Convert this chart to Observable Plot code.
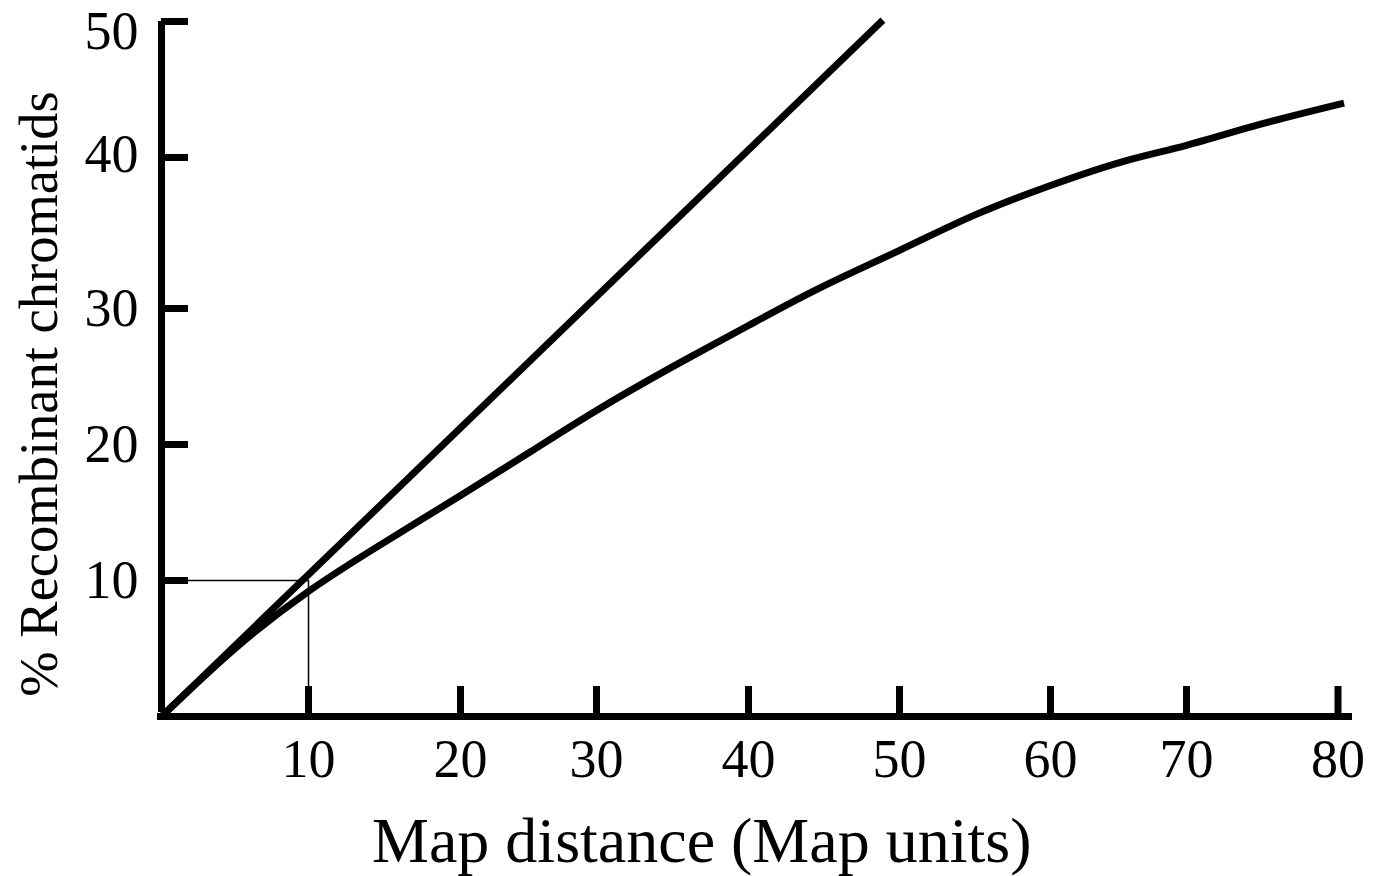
<!DOCTYPE html>
<html>
<head>
<meta charset="utf-8">
<script src="https://cdn.jsdelivr.net/npm/d3@7"></script>
<script src="https://cdn.jsdelivr.net/npm/@observablehq/plot@0.6"></script>
<style>
  html, body { margin: 0; padding: 0; background: #fff; overflow: hidden; }
  #chart svg { display: block; }
</style>
</head>
<body>
<div id="chart"></div>
<script>
// ---- data ----
const xTicks = [10, 20, 30, 40, 50, 60, 70, 80];
const yTicks = [10, 20, 30, 40, 50];
const xTickLabels = ["10", "20", "30", "40", "50", "60", "70", "80"];
const yTickLabels = ["10", "20", "30", "40", "50"];

// Straight line: map distance = % recombinant (no multiple crossovers)
const straightX = [0, 48.9];
const straightY = [0, 50.1];

const curveX = [0, 5, 10, 14.7, 20, 25.2, 30, 34.9, 40, 44.8, 50, 55, 60, 65.2, 70, 74.9, 80.4];
const curveY = [0, 5.0, 9.2, 12.6, 16.25, 19.5, 22.5, 25.65, 28.75, 31.4, 33.85, 36.2, 38.15, 39.7, 40.9, 42.45, 44.0];

// Guide at 10 map units -> 10 %
const guideX = [0, 10, 10];
const guideY = [10, 10, 0];

const xTitle = "Map distance (Map units)";
const yTitle = "% Recombinant chromatids";

// ---- build tables ----
const straight = straightX.map((x, i) => ({x, y: straightY[i]}));
const curve = curveX.map((x, i) => ({x, y: curveY[i]}));
const guide = guideX.map((x, i) => ({x, y: guideY[i]}));
const xLab = xTicks.map((v, i) => ({v, t: xTickLabels[i]}));
const yLab = yTicks.map((v, i) => ({v, t: yTickLabels[i]}));

const W = 1373, H = 876;
const labelFont = 54;
const chart = Plot.plot({
  width: W,
  height: H,
  marginLeft: 161,
  marginRight: 35.5,
  marginTop: 21,
  marginBottom: 160,
  style: {fontFamily: "'Liberation Serif', 'Times New Roman', serif", background: "#fff", color: "#000"},
  x: {type: "linear", domain: [0, 10, 20, 30, 40, 50, 60, 70, 80],
      range: [161, 308, 460, 596, 748, 899, 1050, 1186, 1337.5], axis: null},
  y: {type: "linear", domain: [0, 10, 20, 30, 40, 50],
      range: [716, 580, 444, 308, 157, 21], axis: null},
  marks: [
    // guide lines
    Plot.line(guide, {x: "x", y: "y", stroke: "#000", strokeWidth: 1.5, curve: "linear"}),
    // data lines
    Plot.line(straight, {x: "x", y: "y", stroke: "#000", strokeWidth: 7, strokeLinecap: "butt"}),
    Plot.line(curve, {x: "x", y: "y", stroke: "#000", strokeWidth: 7, strokeLinecap: "butt", curve: "natural"}),
    // axes lines
    Plot.ruleY([0], {x1: 0, x2: 80, stroke: "#000", strokeWidth: 7, insetLeft: -4, insetRight: -14.5}),
    Plot.ruleX([0], {y1: 0, y2: 50, stroke: "#000", strokeWidth: 7, insetTop: -4}),
    // inward ticks
    Plot.ruleX(xTicks, {x: d => d, y1: 0, y2: 0, stroke: "#000", strokeWidth: 7, insetTop: -30}),
    Plot.ruleY(yTicks, {y: d => d, x1: 0, x2: 0, stroke: "#000", strokeWidth: 7, insetRight: -27}),
    // tick labels
    Plot.text(xLab, {x: "v", y: 0, text: "t", fontSize: labelFont, textAnchor: "middle", lineAnchor: "middle", dy: 43.5, fill: "#000"}),
    Plot.text(yLab.filter(d => d.v < 40), {x: 0, y: "v", text: "t", fontSize: labelFont, textAnchor: "end", lineAnchor: "middle", dx: -23, fill: "#000"}),
    Plot.text(yLab.filter(d => d.v === 40), {x: 0, y: "v", text: "t", fontSize: labelFont, textAnchor: "end", lineAnchor: "middle", dx: -23, dy: -3, fill: "#000"}),
    Plot.text(yLab.filter(d => d.v === 50), {x: 0, y: "v", text: "t", fontSize: labelFont, textAnchor: "end", lineAnchor: "middle", dx: -23, dy: 10, fill: "#000"}),
    // axis titles
    Plot.text([xTitle], {frameAnchor: "bottom", text: d => d, fontSize: 64, textAnchor: "middle", lineAnchor: "middle", dx: -48, dy: 125.5, fill: "#000"}),
    Plot.text([yTitle], {frameAnchor: "left", text: d => d, fontSize: 54.5, rotate: -90, textAnchor: "middle", lineAnchor: "middle", dx: -122, dy: 25, fill: "#000"})
  ]
});
document.getElementById("chart").appendChild(chart);
</script>
</body>
</html>
